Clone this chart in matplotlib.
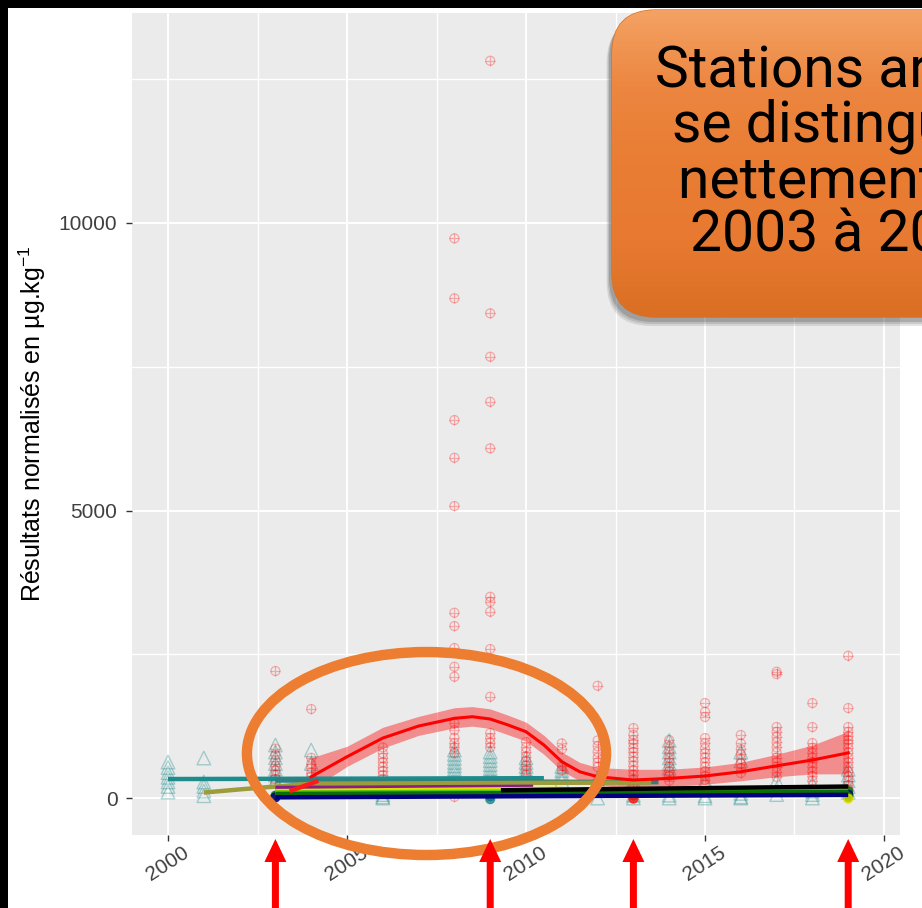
import matplotlib
matplotlib.use("Agg")
import matplotlib.pyplot as plt
import numpy as np
from matplotlib.patches import Rectangle, Ellipse, FancyBboxPatch, FancyArrow
from matplotlib.colors import LinearSegmentedColormap

plt.rcParams["font.family"] = ["Liberation Sans", "DejaVu Sans"]
plt.rcParams["mathtext.default"] = "regular"

# --- station with the highest contents (red crosses) ---
red_x = ([2003] * 9 + [2004] * 9 + [2006] * 11 + [2008] * 17 + [2009] * 14 + [2010] * 8
         + [2011] * 4 + [2012] * 7 + [2013] * 16 + [2014] * 9 + [2015] * 13 + [2016] * 8
         + [2017] * 13 + [2018] * 11 + [2019] * 18)
red_y = [2209, 860, 750, 650, 560, 480, 400, 330, 260,
         1548, 700, 600, 520, 440, 380, 300, 220, 150,
         880, 780, 700, 620, 540, 470, 400, 330, 260, 180, 100,
         9733, 8690, 6573, 5918, 5078, 3223, 2991, 2609, 2284, 2110, 1300, 1180, 1050, 950, 880, 780, 20,
         12822, 8429, 7675, 6892, 6081, 3500, 3414, 3240, 2591, 1762, 1130, 1040, 960, 880,
         975, 880, 800, 720, 640, 560, 480, 400,
         950, 850, 560, 480,
         1953, 1000, 900, 800, 700, 620, 540,
         1217, 1100, 1009, 950, 870, 800, 720, 640, 560, 480, 400, 320, 240, 160, 80, 0,
         1009, 900, 800, 700, 620, 540, 460, 380, 300,
         1652, 1500, 1409, 1043, 950, 860, 780, 700, 620, 540, 460, 380, 313,
         1096, 950, 850, 760, 680, 600, 520, 435,
         2197, 2155, 1235, 1150, 1060, 970, 880, 790, 700, 620, 540, 450, 365,
         1652, 1235, 957, 870, 780, 700, 620, 540, 460, 380, 300,
         2475, 1565, 1235, 1150, 1080, 1009, 950, 870, 790, 700, 620, 540, 460, 380, 300, 220, 140, 60]

# loess fit for that station and its confidence band
fit_x = [2004, 2005, 2006, 2007, 2008, 2008.5, 2009, 2009.5, 2010, 2010.5, 2011, 2011.5,
         2012, 2013, 2014, 2015, 2016, 2017, 2018, 2019]
fit_y = [370, 718, 1043, 1252, 1386, 1414, 1374, 1270, 1153, 922, 631, 457,
         370, 313, 342, 383, 457, 560, 661, 785]
fit_lo = [150, 550, 870, 1090, 1220, 1250, 1210, 1100, 990, 760, 470, 300,
          220, 170, 200, 240, 300, 370, 420, 420]
fit_hi = [700, 900, 1230, 1420, 1570, 1590, 1550, 1440, 1320, 1090, 800, 620,
          530, 500, 500, 540, 620, 760, 920, 1160]

# --- teal station (open triangles) ---
tri_x = ([2000] * 7 + [2001] * 5 + [2003] * 7 + [2004] * 2 + [2006] * 3 + [2008] * 9
         + [2009] * 8 + [2010] * 6 + [2011] * 5 + [2012] * 3 + [2013] * 3 + [2014] * 9
         + [2015] * 4 + [2016] * 5 + [2017] * 3 + [2018] * 4 + [2019] * 5)
tri_y = [626, 530, 440, 360, 280, 200, 104,
         696, 278, 200, 120, 40,
         922, 800, 700, 600, 500, 400, 300,
         835, 600,
         60, 20, 0,
         835, 760, 690, 620, 560, 500, 440, 365, 300,
         800, 720, 650, 580, 510, 440, 380, 320,
         700, 620, 550, 480, 420, 360,
         550, 480, 420, 360, 300,
         350, 300, 0,
         300, 50, 0,
         1000, 890, 800, 700, 600, 520, 440, 50, 0,
         300, 250, 40, 0,
         800, 650, 80, 20, 0,
         300, 150, 60,
         250, 120, 60, 0,
         500, 400, 300, 200, 100]

# --- fitted trends of the other stations ---
trend_colors = ["#1E8C8C", "#2E7F7F", "#9C9C3A", "#8B1A8B", "#E0E000",
                "#5CC400", "#0A6E0A", "#00007F", "#000000", "#FF1A1A"]
trend_x = [[2000, 2010.5], [2003, 2013.7], [2001, 2002, 2003, 2004, 2013.5], [2003, 2010.2],
           [2003, 2011], [2003, 2019], [2003, 2019], [2003, 2019], [2009.3, 2019], [2003.4, 2004.2]]
trend_y = [[330, 345], [305, 275], [95, 150, 200, 250, 270], [175, 195],
           [120, 160], [95, 130], [70, 105], [12, 55], [135, 200], [120, 300]]

# small dark points of those stations
dot_x = [2003, 2003, 2009, 2009, 2013, 2013, 2019, 2019, 2019, 2019]
dot_y = [40, 10, 30, -20, 40, -10, 120, 60, 20, -10]
dot_c = ["#0A6E0A", "#00007F", "#00007F", "#1E8C8C", "#0A6E0A", "#FF1A1A",
         "#0A6E0A", "#00007F", "#0A6E0A", "#E0E000"]

arrow_years = [2003, 2009, 2013, 2019]

W, H = 922, 908
fig = plt.figure(figsize=(W / 100, H / 100), dpi=100, facecolor="black")
fig.patches.append(Rectangle((8 / W, 0), 1, (H - 8) / H, transform=fig.transFigure,
                             facecolor="white", edgecolor="none", zorder=-5))

ax = fig.add_axes([132 / W, (H - 835) / H, 768 / W, 822 / H])
ax.set_facecolor("#EBEBEB")
for s in ax.spines.values():
    s.set_visible(False)
ax.set_xlim(1998.994, 2020.447)
ax.set_ylim(-643, 13652)

ax.set_xticks([2000, 2005, 2010, 2015, 2020])
ax.set_xticks([2002.5, 2007.5, 2012.5, 2017.5], minor=True)
ax.set_yticks([0, 5000, 10000])
ax.set_yticks([2500, 7500, 12500], minor=True)
ax.grid(which="major", color="white", lw=1.4)
ax.grid(which="minor", color="white", lw=1.0)
ax.set_axisbelow(True)
ax.tick_params(which="minor", length=0)
ax.tick_params(which="major", length=4.5, width=1.0, color="#333333",
               labelsize=15, labelcolor="#404040")
ax.tick_params(axis="y", pad=6)
ax.tick_params(axis="x", pad=1)
ax.set_xticklabels(["2000", "2005", "2010", "2015", "2020"], rotation=33, ha="center")

ax.set_ylabel("Résultats normalisés en µg.kg$^{-1}$", fontsize=18, color="black", labelpad=8)

# points
ax.scatter(tri_x, tri_y, marker="^", s=95, facecolors="none",
           edgecolors=(0.1, 0.55, 0.55, 0.35), linewidths=1.0, zorder=2)
ax.scatter(red_x, red_y, marker="o", s=42, facecolors="none",
           edgecolors=(1, 0, 0, 0.28), linewidths=0.9, zorder=2)
ax.scatter(red_x, red_y, marker="+", s=48, color=(1, 0, 0, 0.28), linewidths=0.9, zorder=2)
ax.scatter(dot_x, dot_y, marker="o", s=40, color=dot_c, alpha=0.8, zorder=2)

# loess band and station trends
ax.fill_between(fit_x, fit_lo, fit_hi, color="red", alpha=0.4, lw=0, zorder=3)
for c, xs, ys in zip(trend_colors, trend_x, trend_y):
    ax.plot(xs, ys, color=c, lw=3.2, solid_capstyle="butt", zorder=4)
ax.plot(fit_x, fit_y, color="red", lw=2.2, zorder=5)

# highlight around 2003-2011
ax.add_patch(Ellipse((2007.22, 774), width=10.03, height=3530, fill=False,
                     edgecolor="#ED7D31", lw=7.5, clip_on=False, zorder=10))

# overlay in pixel units for arrows and callout
ov = fig.add_axes([0, 0, 1, 1], zorder=5)
ov.set_xlim(0, W)
ov.set_ylim(H, 0)
ov.axis("off")

fig.canvas.draw()
for yr in arrow_years:
    px = ax.transData.transform((yr, 0))[0]
    ov.add_patch(FancyArrow(px, H + 2, 0, -(H + 2 - 839), width=7, head_width=22,
                            head_length=23, length_includes_head=True,
                            color="#FF0000", lw=0))

# callout box
for off, a in [(9, 0.12), (7, 0.15), (5, 0.2)]:
    ov.add_patch(FancyBboxPatch((612 - off * 0.6, 10 + off), 520, 307,
                                boxstyle="round,pad=0,rounding_size=44",
                                facecolor="#303030", edgecolor="none", alpha=a))
box = FancyBboxPatch((612, 10), 520, 307, boxstyle="round,pad=0,rounding_size=44",
                     facecolor="#E97D33", edgecolor="#D8711F", lw=1.0)
ov.add_patch(box)
grad_cmap = LinearSegmentedColormap.from_list(
    "callout", ["#F4A263", "#EC8640", "#E97D33", "#E77A30", "#DA6F24"])
grad = np.linspace(0, 1, 256).reshape(-1, 1)
im = ov.imshow(grad, extent=[612, 1132, 317, 10], cmap=grad_cmap, aspect="auto",
               interpolation="bilinear", zorder=2)
im.set_clip_path(box)
ov.set_xlim(0, W)
ov.set_ylim(H, 0)

callout_lines = ["Stations arrêtées", "se distinguent", "nettement de", "2003 à 2011"]
callout_x = [655, 672, 678, 690]
callout_base = [88, 142, 197, 252]
for txt, tx, ty in zip(callout_lines, callout_x, callout_base):
    ov.text(tx, ty, txt, fontsize=41, family=["Roboto", "DejaVu Sans"], color="black",
            ha="left", va="baseline", zorder=3)

fig.savefig("out.png", dpi=100, facecolor=fig.get_facecolor())
